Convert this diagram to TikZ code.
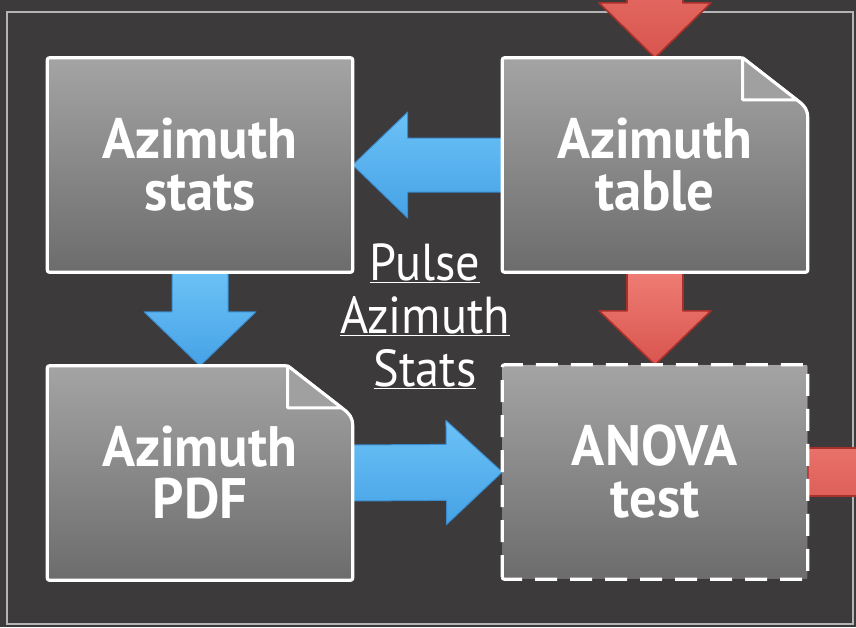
\documentclass[tikz,border=0pt]{standalone}
\usepackage{fontspec}
\setmainfont{PT Sans}
\newfontfamily\boxfont[FakeStretch=0.96]{PT Sans}
\newfontfamily\notefont[FakeStretch=0.93]{PT Sans}
\usetikzlibrary{calc}
\pgfdeclarelayer{bg}
\pgfsetlayers{bg,main}
\definecolor{bgcol}{HTML}{3C3A3A}
\definecolor{framecol}{HTML}{B4B4B4}
\definecolor{boxtop}{HTML}{A4A4A4}
\definecolor{boxbot}{HTML}{6C6C6C}
\definecolor{foldcol}{HTML}{A0A0A0}
\definecolor{bluetop}{HTML}{6CC2F6}
\definecolor{bluebot}{HTML}{46A2E6}
\definecolor{blueline}{HTML}{3A8CCF}
\definecolor{redtop}{HTML}{EE7C74}
\definecolor{redbot}{HTML}{D8554E}
\definecolor{redline}{HTML}{A8302A}
\tikzset{
  boxlabel/.style={minimum width=305pt, minimum height=214pt, inner sep=0pt,
    align=center, text=white, font=\boxfont\bfseries\fontsize{57}{52}\selectfont},
  notelabel/.style={align=center, text=white, inner sep=0pt,
    font=\notefont\fontsize{52}{53}\selectfont},
  boxbody/.style={top color=boxtop, bottom color=boxbot, draw=white,
    line width=3.2pt, line join=round, rounded corners=2pt},
  dashbody/.style={boxbody, dash pattern=on 22pt off 13pt},
  foldpart/.style={fill=foldcol, draw=white, line width=3pt, line join=round},
  bluearr/.style={top color=bluetop, bottom color=bluebot, draw=blueline, line width=1pt, line join=round},
  redarr/.style={top color=redtop, bottom color=redbot, draw=redline, line width=1.6pt, line join=round},
}
\newcommand{\ulin}[1]{\underline{#1}}
% block arrow: style, from, to, shaft half-width, head half-width, head length
\newcommand{\blockarrow}[6]{%
  \coordinate (ba-base) at ($(#3)!#6!(#2)$);
  \filldraw[#1] ($(#2)!#4!90:(#3)$) -- ($(ba-base)!#4!-90:(#2)$)
    -- ($(ba-base)!#5!-90:(#2)$) -- (#3) -- ($(ba-base)!#5!90:(#2)$)
    -- ($(ba-base)!#4!90:(#2)$) -- ($(#2)!#4!-90:(#3)$) -- cycle;}
% document shape with folded corner
\newcommand{\docbox}[1]{%
  \filldraw[boxbody] (#1.south west) -- (#1.north west)
    -- ($(#1.north east)+(-65,0)$) -- ($(#1.north east)+(-11,42)$)
    .. controls ($(#1.north east)+(-3,48)$) and ($(#1.north east)+(0,52)$) .. ($(#1.north east)+(0,62)$)
    -- (#1.south east) -- cycle;
  \filldraw[foldpart] ($(#1.north east)+(-65,0)$) -- ($(#1.north east)+(-65,42)$)
    -- ($(#1.north east)+(-11,42)$) -- cycle;}
\begin{document}
\begin{tikzpicture}[x=1pt,y=-1pt]
\useasboundingbox (0,0) rectangle (856,627);
% text nodes
\node[boxlabel] (st) at (200,165) {Azimuth\\stats};
\node[boxlabel] (tab) at (655,165) {Azimuth\\table};
\node[boxlabel] (pdf) at (200,473) {Azimuth\\PDF};
\node[boxlabel] (anova) at (655,472) {ANOVA\\test};
\node[notelabel] (note) at (425,316) {\ulin{Pulse}\\\ulin{Azimuth}\\\ulin{Stats}};
\coordinate (topin) at (655,-80);
\coordinate (outr) at (960,472);
\begin{pgfonlayer}{bg}
  \fill[bgcol] (0,0) rectangle (856,627);
  \draw[framecol, line width=1.6pt] (7,12) rectangle (853,624);
  % arrows
  \blockarrow{redarr}{topin}{tab.north}{28pt}{56pt}{55pt}
  \blockarrow{bluearr}{tab.west}{st.east}{27pt}{53pt}{55pt}
  \blockarrow{bluearr}{st.south}{pdf.north}{28pt}{56pt}{54pt}
  \blockarrow{bluearr}{pdf.east}{anova.west}{28pt}{52pt}{56pt}
  \blockarrow{redarr}{tab.south}{anova.north}{28pt}{56pt}{54pt}
  \blockarrow{redarr}{anova.east}{outr}{24pt}{50pt}{50pt}
  % boxes
  \filldraw[boxbody] (st.south west) rectangle (st.north east);
  \docbox{tab}
  \docbox{pdf}
  \filldraw[dashbody] (anova.south west) rectangle (anova.north east);
\end{pgfonlayer}
\end{tikzpicture}
\end{document}
